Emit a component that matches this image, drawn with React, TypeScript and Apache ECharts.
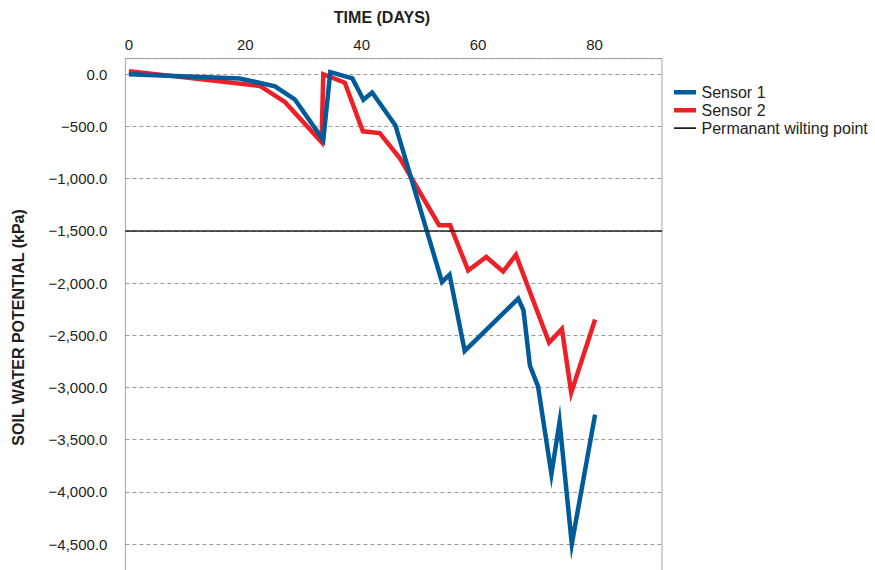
import React, { useEffect, useRef } from "react";
import * as echarts from "echarts";

const sensor1Days = [0, 19, 25.1, 28.5, 33.4, 34.6, 38.4, 40.3, 41.8, 45.8, 53.8, 55.1, 57.7, 66.9, 67.8, 68.9, 70.3, 72.6, 74.0, 76.1, 80.1];
const sensor1Values = [0, -40, -115, -240, -630, 20, -40, -245, -175, -490, -1990, -1920, -2650, -2150, -2260, -2790, -2990, -3830, -3330, -4500, -3260];

const sensor2Days = [0, 22.5, 26.8, 33.1, 33.4, 37.1, 40.2, 43.1, 46.6, 53.3, 55.2, 58.3, 61.4, 64.3, 66.5, 72.2, 74.4, 76.0, 80.1];
const sensor2Values = [30, -112, -265, -650, 0, -80, -547, -563, -808, -1446, -1446, -1880, -1750, -1890, -1730, -2570, -2440, -3050, -2350];

const wiltingPoint = -1500;

const xMin = -0.6;
const xMax = 91.6;
const xLabelStep = 20;
const yMin = -5000;
const yMax = 150;
const yStep = 500;

const seriesNames = ["Sensor 1", "Sensor 2", "Permanant wilting point"];

const TEXT = "#231f20";
const FONT = "'Liberation Sans', Arial, sans-serif";

const THICK_ICON = "path://M0,0h0.001v0.001z M0,5h22v4.4h-22z M0,14h0.001v0.001z";
const THIN_ICON = "path://M0,0h0.001v0.001z M0,6.3h22v1.6h-22z M0,14h0.001v0.001z";

function fmtY(v: number): string {
  if (Math.abs(v % yStep) > 1e-6 || v <= yMin) return "";
  if (v === 0) return "0.0";
  const s = Math.abs(v).toLocaleString("en-US", { minimumFractionDigits: 1, maximumFractionDigits: 1 });
  return (v < 0 ? "\u2212" : "") + s;
}

export default function App() {
  const ref = useRef<HTMLDivElement>(null);
  useEffect(() => {
    if (!ref.current) return;
    const chart = echarts.init(ref.current, undefined, { renderer: "svg" });
    const s1 = sensor1Days.map((d, i) => [d, sensor1Values[i]]);
    const s2 = sensor2Days.map((d, i) => [d, sensor2Values[i]]);
    const lineBase = { width: 4.5, join: "miter", miterLimit: 10.5, cap: "butt" };
    chart.setOption({
      animation: false,
      backgroundColor: "#ffffff",
      textStyle: { fontFamily: FONT },
      grid: {
        left: 125.4,
        top: 58.6,
        width: 536.6,
        bottom: 3.8,
        show: true,
        borderColor: "#a3a3a3",
        borderWidth: 1,
        backgroundColor: "transparent",
        containLabel: false,
      },
      graphic: [
        {
          type: "text",
          x: 382,
          y: 17,
          style: {
            text: "TIME (DAYS)",
            fill: TEXT,
            font: `bold 16px ${FONT}`,
            align: "center",
            verticalAlign: "middle",
          },
        },
      ],
      legend: {
        orient: "vertical",
        left: 669,
        top: 79,
        itemWidth: 23,
        itemHeight: 14,
        itemGap: 2,
        data: [
          { name: seriesNames[0], icon: THICK_ICON },
          { name: seriesNames[1], icon: THICK_ICON },
          { name: seriesNames[2], icon: THIN_ICON },
        ],
        textStyle: { color: TEXT, fontSize: 16, fontFamily: FONT, lineHeight: 16 },
      },
      xAxis: {
        type: "value",
        position: "top",
        min: xMin,
        max: xMax,
        splitNumber: 5,
        axisLine: { show: false },
        axisTick: { show: false },
        splitLine: { show: false },
        axisLabel: {
          color: TEXT,
          fontSize: 15,
          fontFamily: FONT,
          margin: 7,
          formatter: (v: number) => (Math.abs(v % xLabelStep) < 1e-6 ? String(v) : ""),
        },
      },
      yAxis: {
        type: "value",
        min: yMin,
        max: yMax,
        interval: yStep,
        name: "SOIL WATER POTENTIAL (kPa)",
        nameLocation: "middle",
        nameGap: 99,
        nameTextStyle: { color: TEXT, fontSize: 16, fontWeight: "bold", fontFamily: FONT },
        axisLine: { show: false },
        axisTick: { show: false },
        splitLine: {
          show: true,
          lineStyle: { color: "#9a9a9a", width: 1, type: [4, 3] },
        },
        axisLabel: {
          color: TEXT,
          fontSize: 15,
          fontFamily: FONT,
          margin: 18,
          formatter: fmtY,
        },
      },
      series: [
        {
          name: seriesNames[0],
          type: "line",
          data: s1,
          symbol: "none",
          z: 4,
          color: "#005b9a",
          lineStyle: { ...lineBase, color: "#005b9a" },
        },
        {
          name: seriesNames[1],
          type: "line",
          data: s2,
          symbol: "none",
          z: 3,
          color: "#ee1f27",
          lineStyle: { ...lineBase, color: "#ee1f27" },
        },
        {
          name: seriesNames[2],
          type: "line",
          data: [],
          symbol: "none",
          z: 2,
          color: TEXT,
          lineStyle: { color: TEXT, width: 2 },
          markLine: {
            silent: true,
            symbol: "none",
            label: { show: false },
            lineStyle: { color: TEXT, width: 1.6, type: "solid" },
            data: [{ yAxis: wiltingPoint }],
          },
        },
      ],
    });
    return () => chart.dispose();
  }, []);
  return <div ref={ref} style={{ position: "fixed", left: 0, top: 0, width: 875, height: 600 }} />;
}
